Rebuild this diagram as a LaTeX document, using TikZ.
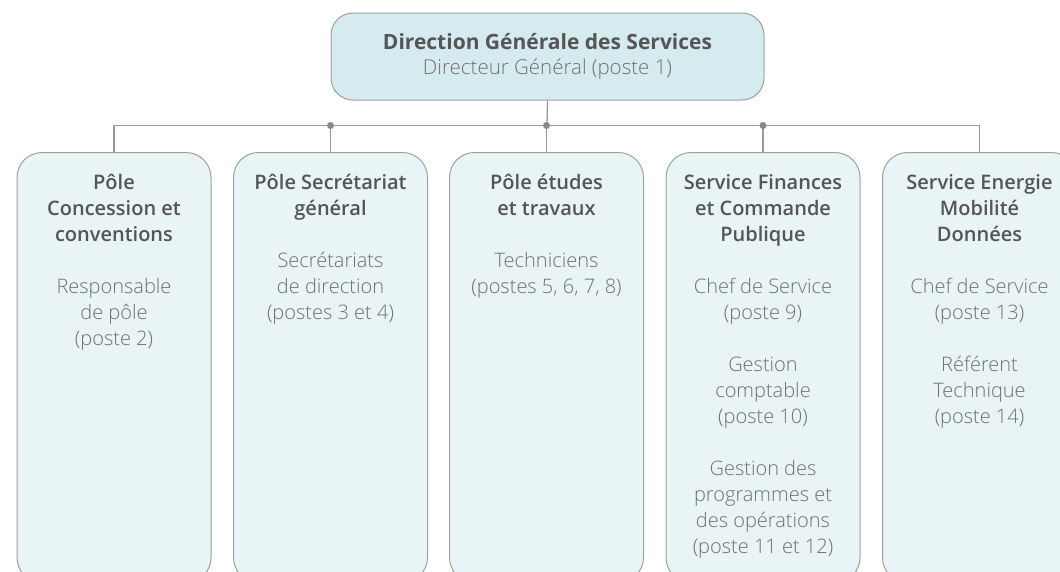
\documentclass[tikz,border=0pt]{standalone}
\usepackage{fontspec}
\setmainfont{Open Sans}
\newfontfamily\lightfont{Open Sans Light}
\definecolor{linegray}{HTML}{9A9A9A}
\definecolor{boxborder}{HTML}{A0A0A0}
\definecolor{topfill}{HTML}{D6EBEF}
\definecolor{unitfill}{HTML}{E8F4F6}
\definecolor{headgray}{HTML}{555555}
\definecolor{textgray}{HTML}{707070}
\definecolor{dotgray}{HTML}{888888}
\newcommand\hdline[1]{\textcolor{headgray}{\bfseries #1}}
\begin{document}
\begin{tikzpicture}[x=1pt,y=-1pt,
  topbox/.style={draw=boxborder, fill=topfill, rounded corners=22pt, line width=1pt,
    minimum width=433pt, minimum height=87pt, inner sep=0pt},
  unitbox/.style={draw=boxborder, fill=unitfill, rounded corners=25pt, line width=1pt,
    minimum width=194pt, minimum height=430pt, inner sep=0pt, anchor=north},
  toptext/.style={align=center, inner sep=0pt, font=\fontsize{20.5}{25}\selectfont},
  unittext/.style={anchor=north, align=center, inner sep=0pt, text=textgray,
    font=\lightfont\fontsize{20}{26}\selectfont},
  link/.style={draw=linegray, line width=1.3pt},
  junction/.style={circle, fill=dotgray, inner sep=0pt, minimum size=7pt}]
\useasboundingbox (0,0) rectangle (1060,571);
\clip (0,0) rectangle (1060,571);
\fill[white] (0,0) rectangle (1060,571);

\coordinate (bus) at (547,125.5);

\node[topbox] (dgs) at (547.5,56.5) {};
\node[toptext] (dgst) at (dgs.center) {\textcolor{headgray}{\fontsize{21}{25}\selectfont\bfseries Direction Générale des Services}\\\textcolor{textgray}{\lightfont Directeur Général (poste 1)}};

\node[unitbox] (u1) at (114,152) {};
\node[unitbox] (u2) at (330.5,152) {};
\node[unitbox] (u3) at (546.5,152) {};
\node[unitbox] (u4) at (763,152) {};
\node[unitbox] (u5) at (979.5,152) {};

\node[unittext] (t1) at (114,171.3) {\strut\hdline{Pôle}\\\hdline{Concession et}\\\hdline{conventions}\\[26pt]Responsable\\de pôle\\(poste 2)};
\node[unittext] (t2) at (330.5,171.3) {\strut\hdline{Pôle Secrétariat}\\\hdline{général}\\[26pt]Secrétariats\\de direction\\(postes 3 et 4)};
\node[unittext] (t3) at (546.5,171.3) {\strut\hdline{Pôle études}\\\hdline{et travaux}\\[26pt]Techniciens\\(postes 5, 6, 7, 8)};
\node[unittext] (t4) at (763,171.3) {\strut\hdline{Service Finances}\\\hdline{et Commande}\\\hdline{Publique}\\[26pt]Chef de Service\\(poste 9)\\[26pt]Gestion\\comptable\\(poste 10)\\[26pt]Gestion des\\programmes et\\des opérations\\(poste 11 et 12)};
\node[unittext] (t5) at (979.5,171.3) {\strut\hdline{Service Energie}\\\hdline{Mobilité}\\\hdline{Données}\\[26pt]Chef de Service\\(poste 13)\\[26pt]Référent\\Technique\\(poste 14)};

\draw[link] (dgs.south) -- (bus);
\draw[link] (u1.north) -- (u1.north |- bus) -- (u5.north |- bus) -- (u5.north);
\draw[link] (u2.north) -- (u2.north |- bus);
\draw[link] (u3.north) -- (u3.north |- bus);
\draw[link] (u4.north) -- (u4.north |- bus);
\node[junction] (j2) at (u2.north |- bus) {};
\node[junction] (j3) at (u3.north |- bus) {};
\node[junction] (j4) at (u4.north |- bus) {};
\end{tikzpicture}
\end{document}
